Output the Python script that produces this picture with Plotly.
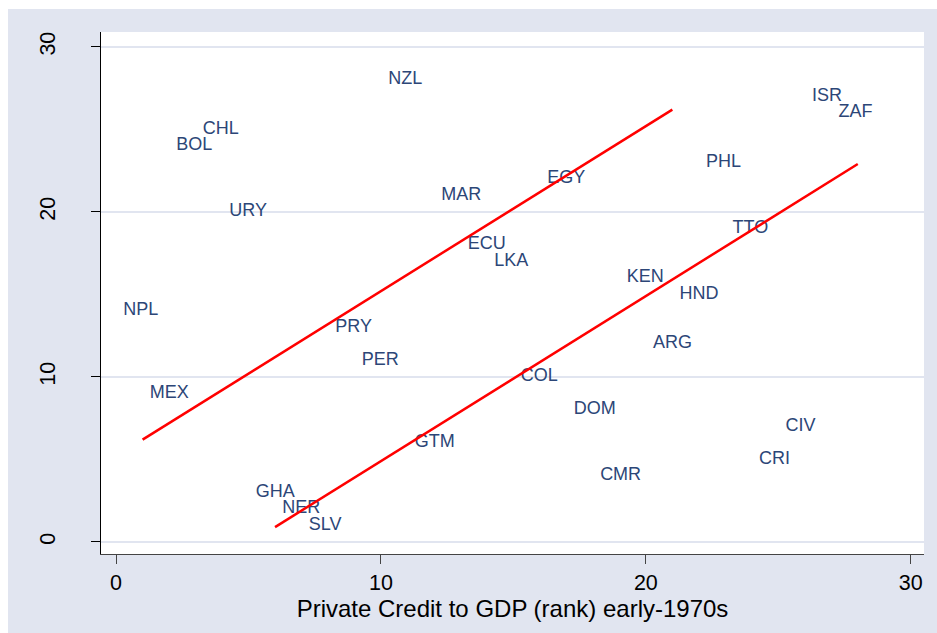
import plotly.graph_objects as go

# Country codes with their ranks
countries = ["NPL", "MEX", "BOL", "CHL", "URY", "GHA", "NER", "SLV", "PRY", "PER",
             "NZL", "GTM", "MAR", "ECU", "LKA", "COL", "EGY", "DOM", "CMR", "KEN",
             "ARG", "HND", "PHL", "TTO", "CRI", "CIV", "ISR", "ZAF"]
credit_rank = [0, 1, 2, 3, 4, 5, 6, 7, 8, 9,
               10, 11, 12, 13, 14, 15, 16, 17, 18, 19,
               20, 21, 22, 23, 24, 25, 26, 27]
y_rank = [14, 9, 24, 25, 20, 3, 2, 1, 13, 11,
          28, 6, 21, 18, 17, 10, 22, 8, 4, 16,
          12, 15, 23, 19, 5, 7, 27, 26]

# Two parallel reference lines
upper_x = [1, 21]
upper_y = [6.2, 26.2]
lower_x = [6, 28]
lower_y = [0.9, 22.9]

tick_vals = [0, 10, 20, 30]

BG = "#E1E5F0"
LABEL = "#2C4677"
FONT = "Liberation Sans, Arial, sans-serif"

fig = go.Figure()

fig.add_trace(go.Scatter(
    x=credit_rank, y=y_rank, mode="markers+text", text=countries,
    textposition="middle right",
    marker=dict(size=10, opacity=0),
    textfont=dict(family=FONT, size=18, color=LABEL),
    hoverinfo="text", showlegend=False,
))
fig.add_trace(go.Scatter(x=upper_x, y=upper_y, mode="lines",
                         line=dict(color="#FF0000", width=2.5), showlegend=False))
fig.add_trace(go.Scatter(x=lower_x, y=lower_y, mode="lines",
                         line=dict(color="#FF0000", width=2.5), showlegend=False))

W, H = 937, 633
ml, mr, mt, mb = 101, 13, 32, 79
pw, ph = W - ml - mr, H - mt - mb

# thin white strips along the left and top page edges
fig.add_shape(type="rect", xref="paper", yref="paper", layer="above",
              x0=-ml / pw - 0.01, x1=-(ml - 8) / pw, y0=-mb / ph - 0.05, y1=1 + mt / ph + 0.05,
              fillcolor="white", line=dict(width=0))
fig.add_shape(type="rect", xref="paper", yref="paper", layer="above",
              x0=-ml / pw - 0.01, x1=1 + mr / pw + 0.01, y0=1 + (mt - 9) / ph, y1=1 + mt / ph + 0.05,
              fillcolor="white", line=dict(width=0))

fig.update_layout(
    width=W, height=H,
    margin=dict(l=ml, r=mr, t=mt, b=mb, pad=0),
    paper_bgcolor=BG, plot_bgcolor="white",
    font=dict(family=FONT, color="black"),
    xaxis=dict(
        range=[-0.57, 30.5], tickvals=tick_vals, ticks="outside", ticklen=9,
        tickcolor="#444", tickwidth=1.3, showgrid=False, zeroline=False,
        showline=True, linecolor="#444", linewidth=1.3,
        tickfont=dict(size=21.5, color="black"),
        title=dict(text="Private Credit to GDP (rank) early-1970s",
                   font=dict(size=24, color="black"), standoff=0),
    ),
    yaxis=dict(
        range=[-0.73, 30.9], tickvals=tick_vals, ticks="outside", ticklen=9,
        tickcolor="black", tickwidth=1.3, showgrid=True, gridcolor=BG, gridwidth=2,
        zeroline=False, showline=True, linecolor="black", linewidth=1.3,
        tickangle=-90, ticklabelstandoff=27,
        tickfont=dict(size=21.5, color="black"),
    ),
)

fig.write_html("out.html")
